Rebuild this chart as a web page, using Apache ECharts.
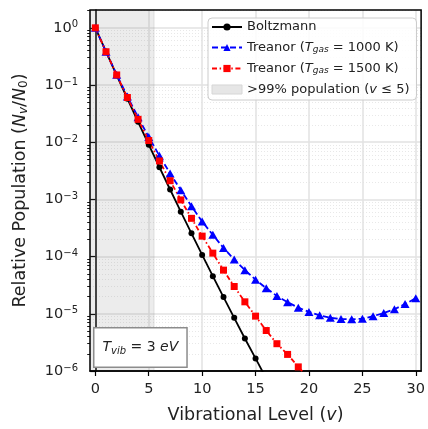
<!DOCTYPE html>
<html><head><meta charset="utf-8">
<script src="https://cdn.jsdelivr.net/npm/echarts@6/dist/echarts.min.js"></script>
<style>html,body{margin:0;padding:0;background:#fff}#c{width:428px;height:429px}</style>
</head><body><div id="c"></div>
<script>
const levels = [0,1,2,3,4,5,6,7,8,9,10,11,12,13,14,15,16,17,18,19,20,21,22,23,24,25,26,27,28,29,30];
const boltzmann = [1, 0.382, 0.148, 0.0576, 0.0227, 0.00905, 0.00365, 0.00149, 6.1e-4, 2.55e-4, 1.07e-4, 4.55e-5, 1.96e-5, 8.5e-6, 3.7e-6, 1.66e-6, 7.4e-7];
const treanor1000 = [1, 0.382, 0.152, 0.063, 0.0273, 0.0123, 0.0058, 0.00285, 0.00145, 7.6e-4, 4.1e-4, 2.4e-4, 1.42e-4, 8.9e-5, 5.8e-5, 3.95e-5, 2.8e-5, 2.05e-5, 1.6e-5, 1.28e-5, 1.08e-5, 9.4e-6, 8.5e-6, 8.1e-6, 8.0e-6, 8.2e-6, 9.1e-6, 1.03e-5, 1.2e-5, 1.48e-5, 1.87e-5];
const treanor1500 = [1, 0.382, 0.150, 0.0605, 0.0251, 0.0107, 0.0047, 0.00212, 9.8e-4, 4.67e-4, 2.28e-4, 1.15e-4, 5.8e-5, 3.0e-5, 1.62e-5, 9.1e-6, 5.1e-6, 3.0e-6, 1.95e-6, 1.18e-6, 7.4e-7];
const xTicks = [0, 5, 10, 15, 20, 25, 30];
const yMajorTicks = [1e-6, 1e-5, 1e-4, 1e-3, 1e-2, 1e-1, 1];
const yMinorTicks = [2e-6,3e-6,4e-6,5e-6,6e-6,7e-6,8e-6,9e-6,
  2e-5,3e-5,4e-5,5e-5,6e-5,7e-5,8e-5,9e-5,
  2e-4,3e-4,4e-4,5e-4,6e-4,7e-4,8e-4,9e-4,
  2e-3,3e-3,4e-3,5e-3,6e-3,7e-3,8e-3,9e-3,
  2e-2,3e-2,4e-2,5e-2,6e-2,7e-2,8e-2,9e-2,
  0.2,0.3,0.4,0.5,0.6,0.7,0.8,0.9,2];
const shadeRange = [-0.5, 5.5];
const legendTexts = {
  'Boltzmann': '{n|Boltzmann}',
  'Treanor 1000': '{n|Treanor (}{i|T}{s|gas}{n| = 1000 K)}',
  'Treanor 1500': '{n|Treanor (}{i|T}{s|gas}{n| = 1500 K)}',
  'Shade': '{n|>99% population (}{i|v}{n| ≤ 5)}'
};

const FONT = 'DejaVu Sans';
const pairs = arr => arr.map((y, i) => [levels[i], y]);

const chart = echarts.init(document.getElementById('c'), null, {renderer: 'canvas'});
const yLabelFmt = v => {
  const e = Math.round(Math.log10(v));
  return '{b|10}{e|' + (e < 0 ? '\u2212' + (-e) : String(e)) + '}';
};
chart.setOption({
  animation: false,
  backgroundColor: '#fff',
  grid: {left: 90, right: 5, top: 10, bottom: 55, show: true, borderColor: '#000', borderWidth: 1.5, backgroundColor: 'transparent', z: 3},
  xAxis: {
    type: 'value', min: -0.5, max: 30.5,
    name: '{n|Vibrational Level (}{i|v}{n|)}', nameLocation: 'middle', nameGap: 35,
    nameTextStyle: {rich: {n: {fontFamily: FONT, fontSize: 17.5, color: '#222'}, i: {fontFamily: FONT, fontSize: 17.5, fontStyle: 'italic', color: '#222'}}},
    axisLine: {show: true, onZero: false, lineStyle: {color: '#000', width: 1.5}},
    axisTick: {show: true, customValues: xTicks, length: 5, lineStyle: {color: '#000', width: 1.2}},
    axisLabel: {customValues: xTicks, fontFamily: FONT, fontSize: 14.5, color: '#222', margin: 11},
    splitLine: {show: true, lineStyle: {color: '#e2e2e2', width: 1.5}}
  },
  yAxis: [{
    type: 'log', logBase: 10, min: 1e-6, max: 2.05, position: 'left',
    name: '{n|Relative Population (}{i|N}{s|v}{n|/}{i|N}{z|0}{n|)}', nameLocation: 'middle', nameGap: 60, nameRotate: 90,
    nameTextStyle: {rich: {
      n: {fontFamily: FONT, fontSize: 17.5, color: '#222', lineHeight: 20},
      i: {fontFamily: FONT, fontSize: 17.5, fontStyle: 'italic', color: '#222', lineHeight: 20},
      s: {fontFamily: FONT, fontSize: 12, fontStyle: 'italic', color: '#222', lineHeight: 8, verticalAlign: 'bottom'},
      z: {fontFamily: FONT, fontSize: 12, color: '#222', lineHeight: 8, verticalAlign: 'bottom'}
    }},
    axisLine: {show: true, lineStyle: {color: '#000', width: 1.5}},
    axisTick: {show: true, customValues: yMajorTicks, length: 5, lineStyle: {color: '#000', width: 1.2}},
    axisLabel: {customValues: yMajorTicks, formatter: yLabelFmt, margin: 12, rich: {
      b: {fontFamily: FONT, fontSize: 14.5, color: '#222', lineHeight: 16},
      e: {fontFamily: FONT, fontSize: 10, color: '#222', lineHeight: 3, verticalAlign: 'top'}
    }},
    splitLine: {show: true, lineStyle: {color: '#e2e2e2', width: 1.5}}
  }, {
    type: 'log', logBase: 10, min: 1e-6, max: 2.05, position: 'left',
    axisLine: {show: false},
    axisTick: {show: true, customValues: yMinorTicks, length: 2.8, lineStyle: {color: '#000', width: 0.9}},
    axisLabel: {show: false, customValues: yMinorTicks},
    splitLine: {show: true, lineStyle: {color: '#e8e8e8', width: 1, type: [1, 2]}}
  }],
  legend: {
    orient: 'vertical', left: 208, top: 18,
    data: [
      {name: 'Boltzmann'}, {name: 'Treanor 1000'}, {name: 'Treanor 1500'},
      {name: 'Shade', icon: 'rect', itemStyle: {color: '#e6e6e6', borderColor: '#d6d6d6', borderWidth: 1}}
    ],
    itemWidth: 30, itemHeight: 9, itemGap: 7.5,
    padding: [2.5, 7, 4, 3],
    backgroundColor: 'rgba(255,255,255,0.85)', borderColor: '#cccccc', borderWidth: 1, borderRadius: 4,
    formatter: name => legendTexts[name],
    textStyle: {rich: {
      n: {fontFamily: FONT, fontSize: 13, color: '#222', lineHeight: 14},
      i: {fontFamily: FONT, fontSize: 13, fontStyle: 'italic', color: '#222', lineHeight: 14},
      s: {fontFamily: FONT, fontSize: 9, fontStyle: 'italic', color: '#222', lineHeight: 6, verticalAlign: 'bottom'}
    }},
    z: 10
  },
  graphic: [{
    type: 'text', left: 93, top: 327, z: 100,
    style: {
      text: '{i|T}{s|vib}{n| = 3 }{i|eV}',
      rich: {
        n: {fontFamily: FONT, fontSize: 14, fill: '#222', lineHeight: 18},
        i: {fontFamily: FONT, fontSize: 14, fontStyle: 'italic', fill: '#222', lineHeight: 18},
        s: {fontFamily: FONT, fontSize: 10, fontStyle: 'italic', fill: '#222', lineHeight: 6, verticalAlign: 'bottom'}
      },
      backgroundColor: '#fff', borderColor: '#8c8c8c', borderWidth: 1.5, padding: [10, 8, 10, 8]
    }
  }],
  series: [{
    name: 'Shade', type: 'line', data: [], z: 1,
    markArea: {silent: true, itemStyle: {color: 'rgba(128,128,128,0.15)', borderColor: 'rgba(128,128,128,0.12)', borderWidth: 1.5},
      data: [[{xAxis: shadeRange[0]}, {xAxis: shadeRange[1]}]]}
  }, {
    name: 'Boltzmann', type: 'line', data: pairs(boltzmann), yAxisIndex: 0,
    symbol: 'circle', symbolSize: 6, showAllSymbol: true, clip: true,
    lineStyle: {color: '#000', width: 1.8}, itemStyle: {color: '#000'}
  }, {
    name: 'Treanor 1000', type: 'line', data: pairs(treanor1000), yAxisIndex: 0,
    symbol: 'triangle', symbolSize: [9, 8], showAllSymbol: true, clip: true,
    lineStyle: {color: '#0000ff', width: 1.8, type: [6, 3]}, itemStyle: {color: '#0000ff'}
  }, {
    name: 'Treanor 1500', type: 'line', data: pairs(treanor1500), yAxisIndex: 0,
    symbol: 'rect', symbolSize: 7, showAllSymbol: true, clip: true,
    lineStyle: {color: '#ff0000', width: 1.8, type: [5, 2.6, 1.5, 2.6]}, itemStyle: {color: '#ff0000'}
  }]
});
</script></body></html>
